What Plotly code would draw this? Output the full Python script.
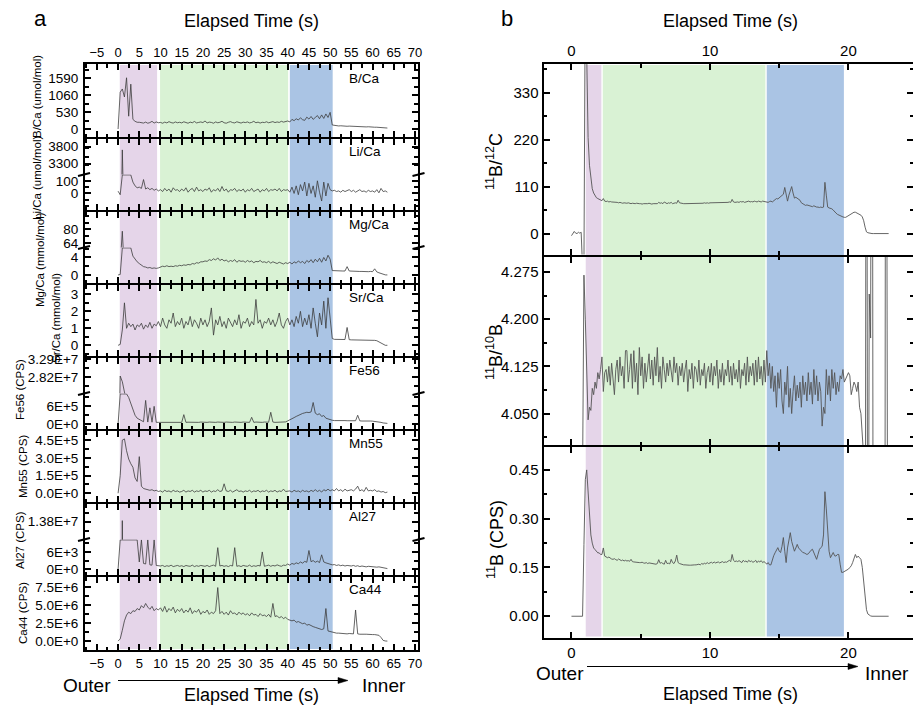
import numpy as np
import plotly.graph_objects as go

W, H = 913, 706

# ---------------- panel a data (sampled every 0.5 s from 0 s) ----------------
ta_start, ta_step = 0.0, 0.5
b_ca = [0, 1150, 1250, 1000, 1600, 400, 1400, 300, 240, 210,
        210, 195, 185, 215, 180, 200, 240, 185, 220, 195,
        205, 180, 215, 190, 230, 200, 185, 220, 195, 210,
        190, 225, 200, 180, 215, 195, 235, 190, 205, 220,
        200, 250, 190, 215, 205, 180, 220, 195, 210, 240,
        195, 180, 210, 230, 200, 190, 225, 205, 185, 215,
        200, 220, 190, 205, 240, 195, 215, 185, 210, 200,
        225, 195, 210, 230, 200, 220, 205, 240, 215, 230,
        250, 220, 300, 260, 320, 280, 350, 290, 270, 370,
        310, 390, 300, 360, 420, 320, 440, 330, 470, 360,
        520, 125, 110, 100, 95, 100, 90, 95, 85, 90,
        85, 80, 85, 75, 80, 70, 75, 65, 70, 60,
        60, 55, 55, 50, 45, 40, 35, 30]
li_ca = [18, -10, 3700, 1000, 1000, 1000, 800, 90, 60, 45,
         50, 40, 110, 35, 45, 30, 40, 25, 35, 20,
         30, 15, 40, 20, 35, 10, 45, 25, 30, 15,
         35, 20, 45, 10, 30, 40, 15, 50, 20, 30,
         15, 35, 25, 45, 10, 30, 20, 40, 15, 55,
         20, 35, 10, 30, 25, 40, 15, 30, 20, 35,
         10, 30, 20, 40, 15, 25, 35, 10, 30, 20,
         40, 15, 30, 25, 35, 20, 40, 15, 30, 25,
         30, 10, 50, 0, 60, -10, 70, 20, 90, -20,
         80, 0, 60, -30, 100, 10, -60, 90, -20, 80,
         30, 20, 25, 15, 20, 10, 25, 15, 20, 30,
         15, 25, 10, 20, 30, 15, 20, 10, 25, 15,
         20, 10, 30, 5, 40, 15, 20, 10]
mg_ca = [0, 0.1, 78, 30, 30, 30, 30, 4.3, 3.6, 3.0,
         2.6, 2.2, 1.9, 1.8, 1.6, 1.7, 1.5, 1.6, 1.5, 1.6,
         1.8, 2.0, 1.9, 2.1, 1.9, 2.0, 1.9, 2.1, 2.0, 2.2,
         2.1, 2.3, 2.2, 2.4, 2.3, 2.6, 2.5, 2.8, 2.7, 3.0,
         3.0, 3.2, 3.1, 3.5, 3.3, 3.7, 3.4, 3.9, 3.3, 3.6,
         3.2, 3.4, 3.0, 3.3, 3.1, 3.5, 2.9, 3.3, 3.1, 3.2,
         2.9, 3.3, 3.0, 3.2, 2.8, 3.1, 3.0, 3.3, 2.9, 3.0,
         2.8, 3.1, 2.7, 3.0, 2.8, 2.6, 2.9, 2.7, 2.5, 2.8,
         2.6, 2.9, 2.5, 3.0, 2.7, 3.2, 2.8, 3.1, 2.6, 3.3,
         2.9, 3.5, 2.8, 3.6, 3.0, 3.8, 2.9, 4.0, 3.2, 4.5,
         3.6, 1.0, 0.95, 0.95, 0.9, 0.9, 0.9, 0.9, 1.9, 0.9,
         0.85, 0.85, 0.8, 0.85, 0.8, 0.8, 0.75, 0.8, 0.75, 0.8,
         0.75, 1.4, 0.7, 0.5, 0.3, 0.1, 0.02, 0.0]
sr_ca = [0, 0.05, 0.9, 2.5, 1.0, 1.3, 1.1, 1.25, 0.9, 1.2,
         1.1, 1.3, 0.95, 1.2, 1.05, 1.35, 1.0, 1.25, 1.15, 1.4,
         1.1, 1.6, 1.2, 1.0, 1.5, 1.3, 1.9, 1.1, 1.4, 1.2,
         1.6, 1.0, 1.4, 1.2, 1.7, 1.1, 1.5, 1.3, 1.0, 1.6,
         1.2, 1.5, 1.1, 1.4, 2.2, 0.6, 1.5, 1.2, 1.7, 1.1,
         1.4, 1.0, 1.6, 1.3, 1.1, 1.5, 1.2, 1.8, 1.0, 1.4,
         1.3, 1.6, 1.1, 1.4, 1.2, 2.7, 1.3, 1.5, 1.0, 1.4,
         1.3, 1.6, 1.2, 1.5, 1.1, 1.4, 1.9, 1.2, 1.0, 1.4,
         1.6, 1.2, 1.5, 1.1, 1.7, 1.3, 2.0, 1.1, 1.6, 1.2,
         1.8, 1.0, 2.2, 1.3, 0.5, 1.9, 1.2, 2.6, 1.0, 2.8,
         1.6, 0.4, 0.35, 0.35, 0.33, 0.35, 0.33, 0.34, 1.05, 0.33,
         0.32, 0.32, 0.3, 0.31, 0.3, 0.3, 0.29, 0.3, 0.28, 0.29,
         0.28, 0.29, 0.27, 0.2, 0.1, 0.03, 0.0, 0.0]
fe56 = [0, 2.85e7, 2.7e7, 5e6, 5e6, 9e5, 7e5, 4.5e5, 3e5, 2e5,
        1.5e5, 1.0e5, 8e4, 8e5, 7e4, 5.5e5, 6.5e4, 6e5, 6e4, 6e4,
        6e4, 6.5e4, 6e4, 7e4, 6e4, 6.5e4, 6e4, 7e4, 6e4, 6.5e4,
        6e4, 3.2e5, 6e4, 6.5e4, 6e4, 7e4, 6e4, 6.5e4, 6e4, 7e4,
        6e4, 6.5e4, 6e4, 7e4, 6e4, 6.5e4, 6e4, 7e4, 6e4, 6.5e4,
        6e4, 7e4, 6e4, 6.5e4, 6e4, 7e4, 6e4, 6.5e4, 6e4, 7e4,
        6e4, 6.5e4, 6e4, 2.3e5, 6e4, 7e4, 6e4, 6.5e4, 6e4, 7e4,
        6e4, 6.5e4, 4.0e5, 7e4, 6e4, 6.5e4, 6e4, 7e4, 6e4, 7.5e4,
        1.1e5, 1.4e5, 1.8e5, 2.2e5, 2.6e5, 3.0e5, 3.3e5, 3.6e5, 3.8e5, 4.0e5,
        3.9e5, 4.1e5, 7.3e5, 3.7e5, 3.2e5, 3.5e5, 2.6e5, 2.9e5, 2.0e5, 1.7e5,
        1.6e5, 1.3e5, 1.2e5, 1.25e5, 1.2e5, 1.25e5, 1.2e5, 1.2e5, 1.15e5, 1.2e5,
        1.15e5, 1.1e5, 1.15e5, 3.0e5, 1.1e5, 1.05e5, 1.1e5, 1.05e5, 1.0e5, 1.05e5,
        1.0e5, 9.5e4, 9e4, 8e4, 6e4, 4e4, 3e4, 2.5e4]
mn55 = [0, 1.5e5, 4.5e5, 4.6e5, 3.6e5, 2.9e5, 2.5e5, 2.2e5, 1.3e5, 1.0e5,
        3.1e5, 6e4, 4e4, 3.5e4, 3e4, 2.5e4, 3e4, 2e4, 2.5e4, 1.5e4,
        2e4, 1e4, 2.5e4, 1.5e4, 2e4, 1e4, 2.5e4, 1.5e4, 2e4, 1e4,
        1.5e4, 2.5e4, 1e4, 2e4, 1.5e4, 2.5e4, 1e4, 2e4, 1.5e4, 2.5e4,
        1e4, 2e4, 1.5e4, 2.5e4, 1e4, 2e4, 1.5e4, 3e4, 1.5e4, 2e4,
        8e4, 2e4, 1.5e4, 2.5e4, 1e4, 2e4, 3e4, 1.5e4, 2e4, 1e4,
        2e4, 1.5e4, 2.5e4, 1e4, 2e4, 1.5e4, 2.5e4, 1e4, 2e4, 1.5e4,
        2.5e4, 1e4, 2e4, 1.5e4, 2.5e4, 1e4, 2e4, 1.5e4, 3.5e4, 1.5e4,
        1.5e4, 2e4, 1e4, 2.5e4, 1.5e4, 2e4, 1e4, 2.5e4, 1.5e4, 2e4,
        1e4, 2.5e4, 1.5e4, 3e4, 1.5e4, 2.5e4, 1e4, 3e4, 2e4, 3.5e4,
        2e4, 3e4, 2e4, 4e4, 2e4, 3e4, 1.5e4, 3.5e4, 2e4, 2.5e4,
        3e4, 2e4, 3.5e4, 6e4, 2e4, 3e4, 1.5e4, 5e4, 2e4, 2.5e4,
        2e4, 3e4, 1.5e4, 2e4, 1e4, 1.5e4, 5e3, 1e4]
al27 = [0, 3e5, 1.385e7, 1e6, 5e5, 3e5, 2e5, 1e5, 5e4, 2.5e4,
        2500, 1.5e4, 2000, 1800, 1.5e4, 1500, 1400, 1.5e4, 1300, 1200,
        1100, 1300, 900, 1200, 1000, 1400, 900, 1100, 1300, 1000,
        1200, 900, 1300, 1100, 1000, 1400, 900, 1200, 1000, 1300,
        1100, 1000, 1300, 900, 1200, 1400, 1000, 7500, 1100, 1300,
        1000, 1200, 900, 1300, 1100, 7500, 1000, 1200, 900, 1300,
        1100, 1000, 1400, 900, 1200, 1000, 1300, 1100, 6000, 1000,
        1200, 1400, 1000, 1300, 1100, 1500, 1200, 1000, 1400, 1300,
        1800, 1400, 2000, 1700, 2200, 1900, 2500, 2100, 2700, 2400,
        6500, 2600, 3000, 2400, 2800, 2300, 5000, 2500, 2200, 2000,
        1800, 1500, 1600, 1300, 1500, 1200, 1400, 1100, 1300, 1200,
        1100, 1300, 1000, 1200, 900, 1100, 1000, 800, 1000, 900,
        800, 900, 700, 800, 600, 500, 300, 200]
ca44 = [0, 3e5, 1.5e6, 2.8e6, 3.6e6, 4.0e6, 3.8e6, 4.2e6, 4.1e6, 4.5e6,
        4.3e6, 4.9e6, 4.6e6, 5.2e6, 4.7e6, 4.4e6, 4.8e6, 4.2e6, 4.5e6, 4.3e6,
        4.6e6, 4.1e6, 4.8e6, 4.0e6, 4.5e6, 4.2e6, 4.7e6, 3.9e6, 4.4e6, 4.1e6,
        4.5e6, 3.9e6, 4.3e6, 4.0e6, 4.6e6, 3.8e6, 4.2e6, 4.0e6, 4.4e6, 3.7e6,
        4.1e6, 3.9e6, 4.3e6, 3.7e6, 4.0e6, 3.8e6, 4.2e6, 7.4e6, 3.8e6, 4.1e6,
        3.7e6, 4.0e6, 3.6e6, 4.2e6, 3.8e6, 3.9e6, 3.6e6, 4.0e6, 3.7e6, 3.9e6,
        3.6e6, 3.8e6, 3.5e6, 3.9e6, 3.6e6, 3.7e6, 3.4e6, 3.8e6, 3.5e6, 3.6e6,
        3.4e6, 3.7e6, 3.3e6, 5.2e6, 3.4e6, 3.5e6, 3.2e6, 3.4e6, 3.1e6, 3.3e6,
        3.0e6, 2.9e6, 2.8e6, 2.9e6, 2.6e6, 2.7e6, 2.5e6, 2.4e6, 2.5e6, 2.2e6,
        2.3e6, 2.1e6, 2.0e6, 1.9e6, 1.8e6, 1.7e6, 1.6e6, 1.7e6, 4.5e6, 1.4e6,
        1.3e6, 1.2e6, 1.15e6, 1.1e6, 1.1e6, 1.05e6, 1.05e6, 1.0e6, 1.0e6, 1.05e6,
        1.0e6, 1.0e6, 4.3e6, 1.0e6, 0.95e6, 1.0e6, 0.95e6, 0.95e6, 0.9e6, 0.95e6,
        0.9e6, 0.9e6, 0.85e6, 0.8e6, 0.5e6, 0.1e6, 0.02e6, 0.0]

# ---------------- panel b data (sampled every 0.1 s from 0 s) ----------------
tb_start, tb_step = 0.0, 0.1
b11_c12 = [-5, 2, 5, 1, 0, 3, 1, 3, -80, -80,
           600, 420, 225, 160, 125, 105, 95, 88, 84, 82,
           80, 79, 77, 82, 76, 75, 76, 74, 75, 74,
           74, 73, 74, 73, 72, 73, 72, 71, 72, 71,
           71, 72, 71, 70, 71, 70, 70, 71, 70, 70,
           70, 69, 70, 70, 69, 70, 71, 70, 69, 70,
           70, 71, 70, 73, 71, 72, 70, 74, 71, 70,
           72, 71, 73, 70, 71, 72, 71, 78, 72, 71,
           71, 70, 70, 70, 70, 70, 70, 70, 70, 70,
           70, 70, 71, 70, 71, 71, 72, 71, 72, 71,
           72, 72, 73, 72, 73, 72, 72, 73, 72, 73,
           72, 73, 72, 73, 74, 73, 80, 74, 73, 74,
           74, 73, 75, 74, 75, 73, 74, 75, 76, 74,
           75, 74, 76, 75, 74, 76, 75, 74, 76, 75,
           75, 74, 73, 75, 76, 74, 77, 80, 82, 81,
           84, 86, 88, 92, 108, 95, 76, 90, 100, 110,
           95, 83, 85, 82, 80, 78, 72, 70, 68, 66,
           67, 66, 65, 64, 63, 65, 63, 62, 62, 61,
           62, 61, 62, 120, 90, 62, 60, 59, 58, 55,
           50, 48, 45, 43, 42, 40, 39, 38, 38, 40,
           42, 45, 46, 48, 50, 50, 48, 48, 45, 43,
           39, 30, 15, 4, 2, 1, 0, 0, 0, 0,
           0, 0, 0, 0, 0, 0, 0, 0, 0, 0]
b11_b10 = [3.9, 3.9, 3.9, 3.9, 3.9, 3.9, 3.9, 3.9, 3.95, 4.27,
           4.20, 4.10, 4.04, 4.06, 4.055, 4.09, 4.08, 4.10, 4.09, 4.115,
           4.105, 4.12, 4.14, 4.085, 4.115, 4.12, 4.10, 4.125, 4.095, 4.13,
           4.11, 4.08, 4.12, 4.135, 4.10, 4.14, 4.11, 4.125, 4.09, 4.15,
           4.15, 4.10, 4.12, 4.145, 4.09, 4.15, 4.10, 4.13, 4.08, 4.155,
           4.11, 4.14, 4.09, 4.13, 4.10, 4.12, 4.145, 4.105, 4.135, 4.095,
           4.14, 4.11, 4.155, 4.10, 4.125, 4.09, 4.14, 4.12, 4.10, 4.13,
           4.11, 4.135, 4.12, 4.10, 4.14, 4.115, 4.13, 4.095, 4.125, 4.11,
           4.13, 4.10, 4.12, 4.135, 4.085, 4.12, 4.105, 4.13, 4.09, 4.125,
           4.12, 4.10, 4.135, 4.095, 4.12, 4.11, 4.13, 4.09, 4.115, 4.125,
           4.10, 4.13, 4.095, 4.125, 4.11, 4.135, 4.09, 4.12, 4.10, 4.13,
           4.095, 4.12, 4.11, 4.135, 4.10, 4.125, 4.095, 4.13, 4.105, 4.12,
           4.10, 4.135, 4.09, 4.12, 4.11, 4.13, 4.095, 4.14, 4.10, 4.125,
           4.11, 4.13, 4.095, 4.135, 4.10, 4.14, 4.105, 4.125, 4.095, 4.135,
           4.10, 4.15, 4.11, 4.13, 4.09, 4.125, 4.085, 4.11, 4.06, 4.115,
           4.09, 4.12, 4.07, 4.05, 4.10, 4.08, 4.125, 4.06, 4.09, 4.05,
           4.085, 4.11, 4.07, 4.095, 4.075, 4.10, 4.06, 4.11, 4.08, 4.10,
           4.07, 4.115, 4.08, 4.10, 4.065, 4.12, 4.08, 4.11, 4.07, 4.10,
           4.085, 4.03, 4.06, 4.05, 4.12, 4.08, 4.11, 4.07, 4.12, 4.09,
           4.115, 4.08, 4.10, 4.085, 4.11, 4.105, 4.12, 4.10, 4.105, 4.11,
           4.115, 4.11, 4.08, 4.09, 4.10, 4.095, 4.085, 4.10, 4.06, 4.05,
           4.02, 3.98, 3.4, 5.2, 3.4, 4.24, 4.17, 5.2, 3.4, 3.0,
           3.0, 3.0, 3.0, 3.0, 3.0, 3.0, 3.0, 5.2, 3.0, 3.0]
b11_cps = [0, 0, 0, 0, 0, 0, 0, 0, 0.0, 0.22,
           0.42, 0.45, 0.38, 0.30, 0.25, 0.225, 0.21, 0.205, 0.2, 0.195,
           0.195, 0.19, 0.19, 0.21, 0.185, 0.183, 0.18, 0.182, 0.178, 0.176,
           0.175, 0.177, 0.174, 0.172, 0.176, 0.172, 0.171, 0.173, 0.17, 0.172,
           0.17, 0.171, 0.169, 0.175, 0.168, 0.167, 0.166, 0.167, 0.166, 0.165,
           0.165, 0.166, 0.164, 0.163, 0.165, 0.162, 0.164, 0.163, 0.162, 0.16,
           0.161, 0.16, 0.162, 0.174, 0.163, 0.165, 0.162, 0.16, 0.172, 0.162,
           0.163, 0.161, 0.175, 0.165, 0.162, 0.17, 0.188, 0.165, 0.162, 0.16,
           0.159, 0.158, 0.158, 0.157, 0.157, 0.157, 0.157, 0.158, 0.157, 0.158,
           0.158, 0.159, 0.16, 0.158, 0.162, 0.16, 0.163, 0.161, 0.165, 0.162,
           0.164, 0.166, 0.163, 0.167, 0.164, 0.165, 0.167, 0.164, 0.166, 0.168,
           0.165, 0.167, 0.166, 0.17, 0.172, 0.168, 0.19, 0.172, 0.168, 0.17,
           0.168, 0.171, 0.167, 0.165, 0.172, 0.168, 0.17, 0.166, 0.172, 0.168,
           0.17, 0.166, 0.168, 0.172, 0.165, 0.17, 0.167, 0.171, 0.165, 0.168,
           0.165, 0.16, 0.165, 0.158, 0.158, 0.175, 0.186, 0.195, 0.205, 0.211,
           0.2, 0.196, 0.215, 0.242, 0.2, 0.165, 0.21, 0.235, 0.257, 0.23,
           0.21, 0.2, 0.21, 0.221, 0.21, 0.205, 0.2, 0.196, 0.195, 0.192,
           0.19, 0.192, 0.198, 0.203, 0.206, 0.195, 0.185, 0.175, 0.19, 0.205,
           0.211, 0.215, 0.25, 0.383, 0.33, 0.272, 0.2, 0.18, 0.19, 0.196,
           0.186, 0.185, 0.19, 0.19, 0.16, 0.135, 0.135, 0.137, 0.14, 0.143,
           0.145, 0.15, 0.155, 0.165, 0.18, 0.19, 0.18, 0.185, 0.18, 0.175,
           0.15, 0.1, 0.05, 0.02, 0.007, 0.003, 0.001, 0.0, 0.0, 0.0,
           0, 0, 0, 0, 0, 0, 0, 0, 0, 0]

# shaded intervals (s): purple, green, blue
regions_a = [(0.4, 9.2), (9.9, 40.1), (40.5, 50.6)]
regions_b = [(1.03, 2.16), (2.26, 14.0), (14.1, 19.67)]
region_colors = ['#E5D5E9', '#D9F2D4', '#AAC4E4']

# tick labels
xa_ticks = list(range(-5, 75, 5))
xa_text = [str(v).replace('-', '\u2212') for v in xa_ticks]
xb_ticks = [0, 10, 20]
xb_text = ['0', '10', '20']

# ---------------- helpers ----------------
FONT = 'Liberation Sans, Arial, Helvetica, sans-serif'
LINE_COLOR = '#3c3c3c'


def py(p):
    return 1 - p / H


def px(p):
    return p / W


def minor_vals(lo, hi, step, base=0.0):
    k0 = int(np.ceil((lo - base) / step - 1e-9))
    k1 = int(np.floor((hi - base) / step + 1e-9))
    return [base + k * step for k in range(k0, k1 + 1)]


layout = dict(width=W, height=H, margin=dict(l=0, r=0, t=0, b=0, pad=0, autoexpand=False),
              paper_bgcolor='white', plot_bgcolor='rgba(0,0,0,0)',
              showlegend=False, font=dict(family=FONT, color='black'))
traces, shapes, annotations = [], [], []
counter = [0]


def base_axis():
    return dict(showline=True, linewidth=2, linecolor='black', ticks='inside',
                tickcolor='black', tickwidth=1.5, ticklen=6, showgrid=False,
                zeroline=False, fixedrange=True, automargin=False)


def minor_cfg(vals):
    return dict(tickmode='array', tickvals=vals, ticks='inside', ticklen=3.5,
                tickwidth=1.5, tickcolor='black', showgrid=False)


def add_axes(xdom, ydom, xr, xtv, xtt, xminor, xside, xmirror, xlabels, xfont,
             yr, ytv, ytt, yminor, yfont, ystand=0):
    counter[0] += 1
    k = counter[0]
    s = '' if k == 1 else str(k)
    xa = base_axis()
    xa.update(domain=xdom, range=xr, anchor='y' + s, side=xside, mirror=xmirror,
              tickmode='array', tickvals=xtv, ticktext=xtt, showticklabels=xlabels,
              tickfont=dict(size=xfont, family=FONT, color='black'),
              minor=minor_cfg(xminor))
    ya = base_axis()
    ya.update(domain=ydom, range=yr, anchor='x' + s, side='left', mirror='ticks',
              tickmode='array', tickvals=ytv, ticktext=ytt, showticklabels=True,
              tickfont=dict(size=yfont, family=FONT, color='black'),
              ticklabelstandoff=ystand, minor=minor_cfg(yminor))
    layout['xaxis' + s] = xa
    layout['yaxis' + s] = ya
    return 'x' + s, 'y' + s


# ---------------- panel a ----------------
ta = ta_start + ta_step * np.arange(len(b_ca))
xa_range = [-7.8, 70.6]
xa_minor = minor_vals(xa_range[0], xa_range[1], 2.5, 0)
a_left, a_right = 85, 417.5
a_top, a_h = 65, 73

left_specs = [
    ('B/Ca', 'B/Ca (umol/mol)', b_ca, (37, 97),
     [([-250, 2030], [0, 530, 1060, 1590], ['0', '530', '1060', '1590'], 265)]),
    ('Li/Ca', 'Li/Ca (umol/mol)', li_ca, (37, 178),
     [([-131, 150], [0, 100], ['0', '100'], 50),
      ([2982, 4019], [3300, 3800], ['3300', '3800'], 250)]),
    ('Mg/Ca', 'Mg/Ca (mmol/mol)', mg_ca, (40, 260),
     [([-1.84, 6.27], [0, 4], ['0', '4'], 2),
      ([59.3, 100.1], [64, 80], ['64', '80'], 8)]),
    ('Sr/Ca', 'Sr/Ca (mmol/mol)', sr_ca, (56, 318),
     [([-0.63, 3.55], [0, 1, 2, 3], ['0', '1', '2', '3'], 0.5)]),
    ('Fe56', 'Fe56 (CPS)', fe56, (20, 390),
     [([-1.64e5, 1.033e6], [0, 6e5], ['0E+0', '6E+5'], 3e5),
      ([2.391e7, 3.323e7], [2.82e7, 3.29e7], ['2.82E+7', '3.29E+7'], 2.35e6)]),
    ('Mn55', 'Mn55 (CPS)', mn55, (23, 467),
     [([-7.4e4, 5.27e5], [0, 1.5e5, 3e5, 4.5e5], ['0.0E+0', '1.5E+5', '3.0E+5', '4.5E+5'], 7.5e4)]),
    ('Al27', 'Al27 (CPS)', al27, (20, 540),
     [([-2034, 10340], [0, 6e3], ['0E+0', '6E+3'], 3e3),
      ([1.30e7, 1.46e7], [1.38e7], ['1.38E+7'], 4e5)]),
    ('Ca44', 'Ca44 (CPS)', ca44, (23, 613),
     [([-1.23e6, 8.86e6], [0, 2.5e6, 5e6, 7.5e6], ['0.0E+0', '2.5E+6', '5.0E+6', '7.5E+6'], 1.25e6)]),
]

xdom_a = [px(a_left), px(a_right)]
n_left = len(left_specs)
for i, (lab, title, vals, tpos, segs) in enumerate(left_specs):
    top = a_top + i * a_h
    bot = top + a_h
    dtop = top + (1 if i > 0 else -1)
    dbot = bot - (1 if i < n_left - 1 else -1)
    first_x = None
    if len(segs) == 1:
        yr, ytv, ytt, ystep = segs[0]
        xside = 'top' if i == 0 else 'bottom'
        xl = (i == 0 or i == n_left - 1)
        xx, yy = add_axes(xdom_a, [py(dbot), py(dtop)], xa_range, xa_ticks, xa_text, xa_minor,
                          xside, 'ticks', xl, 13, yr, ytv, ytt,
                          minor_vals(yr[0], yr[1], ystep, 0), 13.5, 2)
        traces.append(go.Scatter(x=ta, y=vals, xaxis=xx, yaxis=yy, mode='lines',
                                 line=dict(color=LINE_COLOR, width=0.8), hoverinfo='skip'))
        first_x = xx
    else:
        mid = top + a_h / 2
        for j, (yr, ytv, ytt, ystep) in enumerate(segs):
            if j == 0:
                ydom = [py(dbot), py(mid)]
                xside = 'bottom'
                # values above the break are held at the break, as in the original plot
                yplot = np.minimum(np.asarray(vals, dtype=float), yr[1] - 0.012 * (yr[1] - yr[0]))
            else:
                ydom = [py(mid), py(dtop)]
                xside = 'top'
                yplot = vals
            if j == 1 and len(ytv) == 1:
                ymin = [ytv[0] - ystep, ytv[0] + ystep]
            else:
                ymin = minor_vals(yr[0], yr[1], ystep, 0)
            xx, yy = add_axes(xdom_a, ydom, xa_range, xa_ticks, xa_text, xa_minor,
                              xside, False, False, 13, yr, ytv, ytt, ymin, 13.5, 2)
            traces.append(go.Scatter(x=ta, y=yplot, xaxis=xx, yaxis=yy, mode='lines',
                                     line=dict(color=LINE_COLOR, width=0.8), hoverinfo='skip'))
            if j == 0:
                first_x = xx
        for xe in (a_left - 1, a_right + 1):
            shapes.append(dict(type='line', xref='paper', yref='paper',
                               x0=px(xe - 6), x1=px(xe + 6), y0=py(mid + 1.5), y1=py(mid - 1.5),
                               line=dict(color='black', width=2)))
    for (r0, r1), col in zip(regions_a, region_colors):
        shapes.append(dict(type='rect', xref=first_x, yref='paper', x0=r0, x1=r1,
                           y0=py(bot), y1=py(top), fillcolor=col, line=dict(width=0),
                           layer='below'))
    annotations.append(dict(text=lab, x=px(347), y=py(top + 13.5), xref='paper', yref='paper',
                            xanchor='left', yanchor='middle', showarrow=False,
                            font=dict(size=13.5, family=FONT, color='black')))
    annotations.append(dict(text=title, x=px(tpos[0]), y=py(tpos[1]), xref='paper', yref='paper',
                            xanchor='center', yanchor='middle', showarrow=False, textangle=-90,
                            font=dict(size=11.5, family=FONT, color='black')))

# ---------------- panel b ----------------
tb = tb_start + tb_step * np.arange(len(b11_c12))
xb_range = [-2.02, 24.66]
xb_minor = [5, 15]
b_left = 543.5
b_tops = [65, 255.5, 446]
b_h = 190.5
right_specs = [
    (b11_c12, '<sup>11</sup>B/<sup>12</sup>C', 162, [-49, 397], [0, 110, 220, 330],
     ['0', '110', '220', '330'], 55),
    (b11_b10, '<sup>11</sup>B/<sup>10</sup>B', 352, [4.0, 4.2996], [4.05, 4.125, 4.2, 4.275],
     ['4.050', '4.125', '4.200', '4.275'], 0.0375),
    (b11_cps, '<sup>11</sup>B (CPS)', 540, [-0.0654, 0.5205], [0, 0.15, 0.3, 0.45],
     ['0.00', '0.15', '0.30', '0.45'], 0.075),
]
xdom_b = [px(b_left), 1.0]
nb = len(right_specs)
for i, (vals, title, ty, yr, ytv, ytt, ystep) in enumerate(right_specs):
    top = b_tops[i]
    bot = top + b_h
    dtop = top + (1 if i > 0 else -1)
    dbot = bot - (1 if i < nb - 1 else -1)
    xside = 'top' if i == 0 else 'bottom'
    xl = (i == 0 or i == nb - 1)
    base = ytv[0]
    xx, yy = add_axes(xdom_b, [py(dbot), py(dtop)], xb_range, xb_ticks, xb_text, xb_minor,
                      xside, 'ticks', xl, 15, yr, ytv, ytt,
                      minor_vals(yr[0], yr[1], ystep, base), 15, 0)
    traces.append(go.Scatter(x=tb, y=vals, xaxis=xx, yaxis=yy, mode='lines',
                             line=dict(color='#555555', width=0.9), hoverinfo='skip'))
    for (r0, r1), col in zip(regions_b, region_colors):
        shapes.append(dict(type='rect', xref=xx, yref='paper', x0=r0, x1=r1,
                           y0=py(bot), y1=py(top), fillcolor=col, line=dict(width=0),
                           layer='below'))
    annotations.append(dict(text=title, x=px(495), y=py(ty), xref='paper', yref='paper',
                            xanchor='center', yanchor='middle', showarrow=False, textangle=-90,
                            font=dict(size=18, family=FONT, color='black')))


# ---------------- titles & arrows ----------------
def txt(s, x, y, size, anchor='center'):
    annotations.append(dict(text=s, x=px(x), y=py(y), xref='paper', yref='paper',
                            xanchor=anchor, yanchor='middle', showarrow=False,
                            font=dict(size=size, family=FONT, color='black')))


txt('a', 40, 19, 22)
txt('b', 507, 19, 22)
txt('Elapsed Time (s)', 251, 21, 18)
txt('Elapsed Time (s)', 730, 21, 18)
txt('Elapsed Time (s)', 251, 695, 18)
txt('Elapsed Time (s)', 730, 694, 18)
txt('Outer', 87, 685, 19)
txt('Inner', 384, 685, 19)
txt('Outer', 560, 673, 19)
txt('Inner', 911, 673, 19, anchor='right')

for (x0, x1, y) in [(118, 348, 680.5), (587, 858, 666.5)]:
    shapes.append(dict(type='line', xref='paper', yref='paper', x0=px(x0), x1=px(x1 - 6),
                       y0=py(y), y1=py(y), line=dict(color='black', width=1)))
    shapes.append(dict(type='path', xref='paper', yref='paper',
                       path='M {:.5f} {:.5f} L {:.5f} {:.5f} L {:.5f} {:.5f} Z'.format(
                           px(x1), py(y), px(x1 - 10), py(y - 3), px(x1 - 10), py(y + 3)),
                       fillcolor='black', line=dict(color='black', width=0.5)))

layout['shapes'] = shapes
layout['annotations'] = annotations
fig = go.Figure(data=traces, layout=layout)
fig.write_html('out.html', config={'displayModeBar': False},
               post_script="document.body.style.margin='0';document.body.style.overflow='hidden';")
